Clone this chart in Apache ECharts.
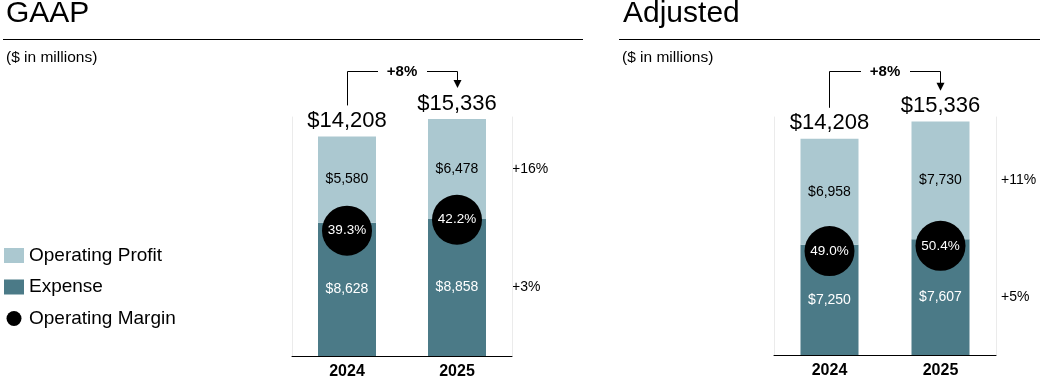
<!DOCTYPE html>
<html><head><meta charset="utf-8">
<script src="https://cdn.jsdelivr.net/npm/echarts@6/dist/echarts.min.js"></script>
<style>html,body{margin:0;padding:0;background:#fff}#c{width:1043px;height:380px}</style>
</head><body><div id="c"></div>
<script>
const categories = ['2024', '2025'];
const gaapExpense = [8628, 8858];
const gaapProfit = [5580, 6478];
const gaapTotal = [14208, 15336];
const gaapMargin = [39.3, 42.2];
const adjExpense = [7250, 7607];
const adjProfit = [6958, 7730];
const adjTotal = [14208, 15336];
const adjMargin = [49.0, 50.4];
const totalChange = ['+8%', '+8%'];      // GAAP, Adjusted
const profitChange = ['+16%', '+11%'];
const expenseChange = ['+3%', '+5%'];
const panelTitles = ['GAAP', 'Adjusted'];
const unitNote = '($ in millions)';
const legendNames = ['Operating Profit', 'Expense', 'Operating Margin'];

const FONT = '"Liberation Sans", Arial, Helvetica, sans-serif';
const LIGHT = '#abc8d0', DARK = '#4b7a87';
const money = v => '$' + Number(v).toLocaleString('en-US');

const panels = [
  {expense: gaapExpense, profit: gaapProfit, total: gaapTotal, margin: gaapMargin,
   grid: {left: 292, top: 117, width: 220, height: 240}, yMax: 15465, mMin: 6, mMax: 69.5,
   titleX: 6, noteX: 6, rule: [3, 583], changeDx: 0},
  {expense: adjExpense, profit: adjProfit, total: adjTotal, margin: adjMargin,
   grid: {left: 774, top: 117, width: 222, height: 238}, yMax: 15640, mMin: 21.5, mMax: 84.5,
   titleX: 623, noteX: 622, rule: [619, 1040], changeDx: 5}
];

const chart = echarts.init(document.getElementById('c'), null, {renderer: 'canvas'});

const grids = [], xAxes = [], yAxes = [], series = [], titles = [];
panels.forEach((P, p) => {
  grids.push(Object.assign({containLabel: false}, P.grid));
  xAxes.push({type: 'category', gridIndex: p, data: categories,
    axisLine: {show: true, lineStyle: {color: '#000', width: 1}},
    axisTick: {show: false},
    axisLabel: {color: '#000', fontSize: 16, fontWeight: 'bold', fontFamily: FONT, margin: 8},
    splitLine: {show: false}});
  yAxes.push({type: 'value', gridIndex: p, min: 0, max: P.yMax, position: 'left',
    axisLine: {show: true, lineStyle: {color: '#ebebeb', width: 1}},
    axisTick: {show: false}, axisLabel: {show: false}, splitLine: {show: false}});
  yAxes.push({type: 'value', gridIndex: p, min: P.mMin, max: P.mMax, position: 'right',
    axisLine: {show: true, lineStyle: {color: '#ebebeb', width: 1}},
    axisTick: {show: false}, axisLabel: {show: false}, splitLine: {show: false}});
  series.push({name: 'Expense', type: 'bar', stack: 's' + p, xAxisIndex: p, yAxisIndex: 2 * p,
    data: P.expense, barWidth: 58, itemStyle: {color: DARK},
    label: {show: true, position: 'inside', color: '#fff', fontSize: 14, fontFamily: FONT,
      formatter: o => money(o.value)}});
  series.push({name: 'Operating Profit', type: 'bar', stack: 's' + p, xAxisIndex: p, yAxisIndex: 2 * p,
    data: P.profit, barWidth: 58, itemStyle: {color: LIGHT},
    label: {show: true, position: 'inside', color: '#000', fontSize: 14, fontFamily: FONT,
      formatter: o => money(o.value)}});
  series.push({name: 'Total', type: 'scatter', xAxisIndex: p, yAxisIndex: 2 * p,
    data: P.total, symbolSize: 1, silent: true, itemStyle: {color: 'rgba(255,255,255,0)', opacity: 1},
    label: {show: true, position: 'top', distance: 4, color: '#000', fontSize: 22, fontFamily: FONT,
      formatter: o => money(o.value)}});
  series.push({name: 'Operating Margin', type: 'scatter', xAxisIndex: p, yAxisIndex: 2 * p + 1,
    data: P.margin, symbolSize: 50, z: 5, itemStyle: {color: '#000', opacity: 1},
    label: {show: true, position: 'inside', color: '#fff', fontSize: 13.5, fontFamily: FONT,
      formatter: o => Number(o.value).toFixed(1) + '%'}});
  titles.push({text: panelTitles[p], left: P.titleX, top: -1, padding: 0,
    textStyle: {fontSize: 30, fontWeight: 'normal', color: '#000', fontFamily: FONT}});
  titles.push({text: unitNote, left: P.noteX, top: 50, padding: 0,
    textStyle: {fontSize: 15.5, fontWeight: 'normal', color: '#000', fontFamily: FONT}});
});

chart.setOption({
  animation: false,
  backgroundColor: '#fff',
  textStyle: {fontFamily: FONT},
  title: titles,
  legend: {orient: 'vertical', left: 4, top: 246, padding: 0, itemWidth: 20, itemHeight: 15, itemGap: 12.5,
    selectedMode: false,
    data: [{name: legendNames[0], icon: 'rect'}, {name: legendNames[1], icon: 'rect'}, {name: legendNames[2], icon: 'circle'}],
    textStyle: {fontSize: 19, color: '#000', fontFamily: FONT}},
  grid: grids, xAxis: xAxes, yAxis: yAxes, series: series
});

// annotations derived from the chart's own scales
const gfx = [];
const cr = v => Math.round(v - 0.5) + 0.5;
panels.forEach((P, p) => {
  gfx.push({type: 'line', shape: {x1: P.rule[0], y1: 39.5, x2: P.rule[1], y2: 39.5},
    style: {stroke: '#000', lineWidth: 1}, silent: true});
  const f = {xAxisIndex: p, yAxisIndex: 2 * p};
  const a = chart.convertToPixel(f, [categories[0], P.total[0]]);
  const b = chart.convertToPixel(f, [categories[1], P.total[1]]);
  const yH = 71.5;
  const ax = cr(a[0]), bx = cr(b[0]);
  const mid = (a[0] + b[0]) / 2;
  const y0 = a[1] - 31, y1 = b[1] - 31;
  gfx.push({type: 'polyline', silent: true, shape: {points: [[ax, y0], [ax, yH], [mid - 24, yH]]},
    style: {stroke: '#000', lineWidth: 1, fill: null}});
  gfx.push({type: 'polyline', silent: true, shape: {points: [[mid + 25, yH], [bx, yH], [bx, y1 - 7]]},
    style: {stroke: '#000', lineWidth: 1, fill: null}});
  gfx.push({type: 'polygon', silent: true, shape: {points: [[bx - 4, y1 - 8], [bx + 4, y1 - 8], [bx, y1]]},
    style: {fill: '#000'}});
  gfx.push({type: 'text', silent: true, x: mid, y: yH, style: {text: totalChange[p], fontSize: 15, fontWeight: 'bold',
    fontFamily: FONT, fill: '#000', align: 'center', verticalAlign: 'middle'}});
  const right = P.grid.left + P.grid.width + P.changeDx;
  const pm = chart.convertToPixel(f, [categories[1], P.expense[1] + P.profit[1] / 2]);
  const em = chart.convertToPixel(f, [categories[1], P.expense[1] / 2]);
  gfx.push({type: 'text', silent: true, x: right, y: pm[1], style: {text: profitChange[p], fontSize: 14,
    fontFamily: FONT, fill: '#000', align: 'left', verticalAlign: 'middle'}});
  gfx.push({type: 'text', silent: true, x: right, y: em[1], style: {text: expenseChange[p], fontSize: 14,
    fontFamily: FONT, fill: '#000', align: 'left', verticalAlign: 'middle'}});
});
chart.setOption({graphic: {elements: gfx}});
</script>
</body></html>
